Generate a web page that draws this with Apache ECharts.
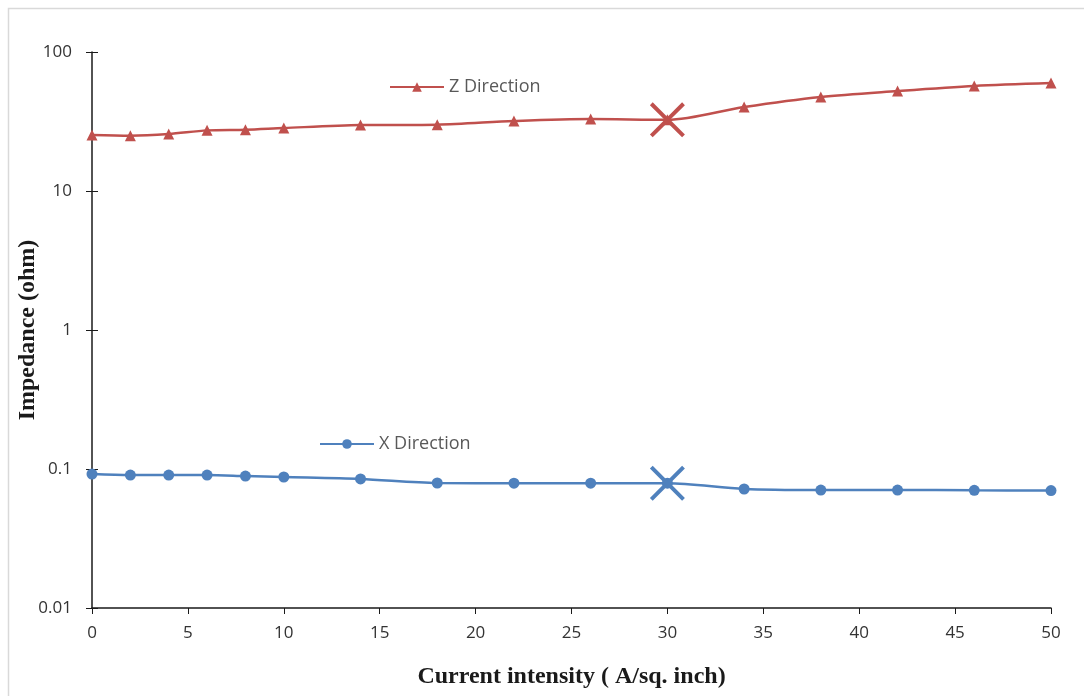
<!DOCTYPE html>
<html>
<head>
<meta charset="utf-8">
<title>Impedance</title>
<script src="https://cdn.jsdelivr.net/npm/echarts@6/dist/echarts.min.js"></script>
<style>
  html, body { margin: 0; padding: 0; background: #fff; }
  #chart1 { width: 1084px; height: 696px; }
</style>
</head>
<body>
<div id="chart1"></div>
<script type="text/javascript">
    // data
    var current = [0, 2, 4, 6, 8, 10, 14, 18, 22, 26, 30, 34, 38, 42, 46, 50];
    var zDir = [25.3, 25, 25.7, 27.3, 27.6, 28.4, 29.8, 30, 31.9, 33, 32.5, 40.2, 47.5, 52.4, 57, 59.8];
    var xDir = [0.092, 0.0905, 0.0905, 0.0905, 0.089, 0.0876, 0.0848, 0.0793, 0.079, 0.079, 0.079, 0.0718, 0.0706, 0.0706, 0.0703, 0.070];
    var markAt = 30;

    var red = '#C0504D';
    var blue = '#4F81BD';
    var crossPath = 'path://M0,8L8,0L50,42L92,0L100,8L58,50L100,92L92,100L50,58L8,100L0,92L42,50Z';

    function pairs(vals) {
        return current.map(function (x, i) { return [x, vals[i]]; });
    }
    function crossMark(vals, color) {
        var i = current.indexOf(markAt);
        return {
            symbol: crossPath,
            symbolSize: 35,
            itemStyle: { color: color },
            label: { show: false },
            data: [{ coord: [markAt, vals[i]] }]
        };
    }

    var myChart = echarts.init(document.getElementById('chart1'));

    var option = {
        animation: false,
        backgroundColor: '#fff',
        textStyle: { fontFamily: 'Open Sans' },
        graphic: [{
            type: 'polyline',
            shape: { points: [[8.5, 700], [8.5, 8.5], [1090, 8.5]] },
            style: { fill: 'none', stroke: '#d9d9d9', lineWidth: 1.5 },
            silent: true
        }],
        grid: { left: 92, right: 33, top: 52, bottom: 88, containLabel: false, outerBoundsMode: 'none' },
        legend: [{
            data: ['Z Direction'],
            left: 384, top: 73,
            itemWidth: 54, itemHeight: 12, itemGap: 4,
            textStyle: { color: '#595959', fontSize: 18 }
        }, {
            data: ['X Direction'],
            left: 314, top: 430,
            itemWidth: 54, itemHeight: 12, itemGap: 4,
            textStyle: { color: '#595959', fontSize: 18 }
        }],
        xAxis: {
            type: 'value',
            min: 0, max: 50, interval: 5,
            name: 'Current intensity ( A/sq. inch)',
            nameLocation: 'middle',
            nameGap: 57,
            nameMoveOverlap: false,
            nameTextStyle: { fontFamily: 'Liberation Serif', fontWeight: 'bold', fontSize: 24, color: '#1a1a1a' },
            axisLine: { lineStyle: { color: '#1a1a1a', width: 1.5 } },
            axisTick: { length: 6, lineStyle: { color: '#1a1a1a' } },
            axisLabel: { color: '#333', fontSize: 17, margin: 17 },
            splitLine: { show: false }
        },
        yAxis: [{
            type: 'log',
            logBase: 10,
            min: 0.01, max: 100,
            name: 'Impedance (ohm)',
            nameLocation: 'middle',
            nameGap: 52,
            nameMoveOverlap: false,
            nameTextStyle: { fontFamily: 'Liberation Serif', fontWeight: 'bold', fontSize: 24, color: '#1a1a1a' },
            axisLine: { show: true, lineStyle: { color: '#1a1a1a', width: 1.5 } },
            axisTick: { show: true, length: 6, lineStyle: { color: '#1a1a1a' } },
            axisLabel: { color: '#333', fontSize: 17, margin: 20 },
            splitLine: { show: false }
        }, {
            type: 'log',
            logBase: 10,
            min: 0.01, max: 100,
            position: 'left',
            axisLine: { show: false },
            axisTick: { show: true, inside: true, length: 6, lineStyle: { color: '#1a1a1a' } },
            axisLabel: { show: false },
            splitLine: { show: false }
        }],
        series: [{
            name: 'Z Direction',
            type: 'line',
            smooth: 0.3,
            data: pairs(zDir),
            symbol: 'triangle',
            symbolSize: 11,
            color: red,
            lineStyle: { width: 2.5, color: red },
            itemStyle: { color: red },
            markPoint: crossMark(zDir, red)
        }, {
            name: 'X Direction',
            type: 'line',
            smooth: 0.3,
            data: pairs(xDir),
            symbol: 'circle',
            symbolSize: 11,
            color: blue,
            lineStyle: { width: 2.5, color: blue },
            itemStyle: { color: blue },
            markPoint: crossMark(xDir, blue)
        }]
    };

    myChart.setOption(option);
</script>
</body>
</html>
